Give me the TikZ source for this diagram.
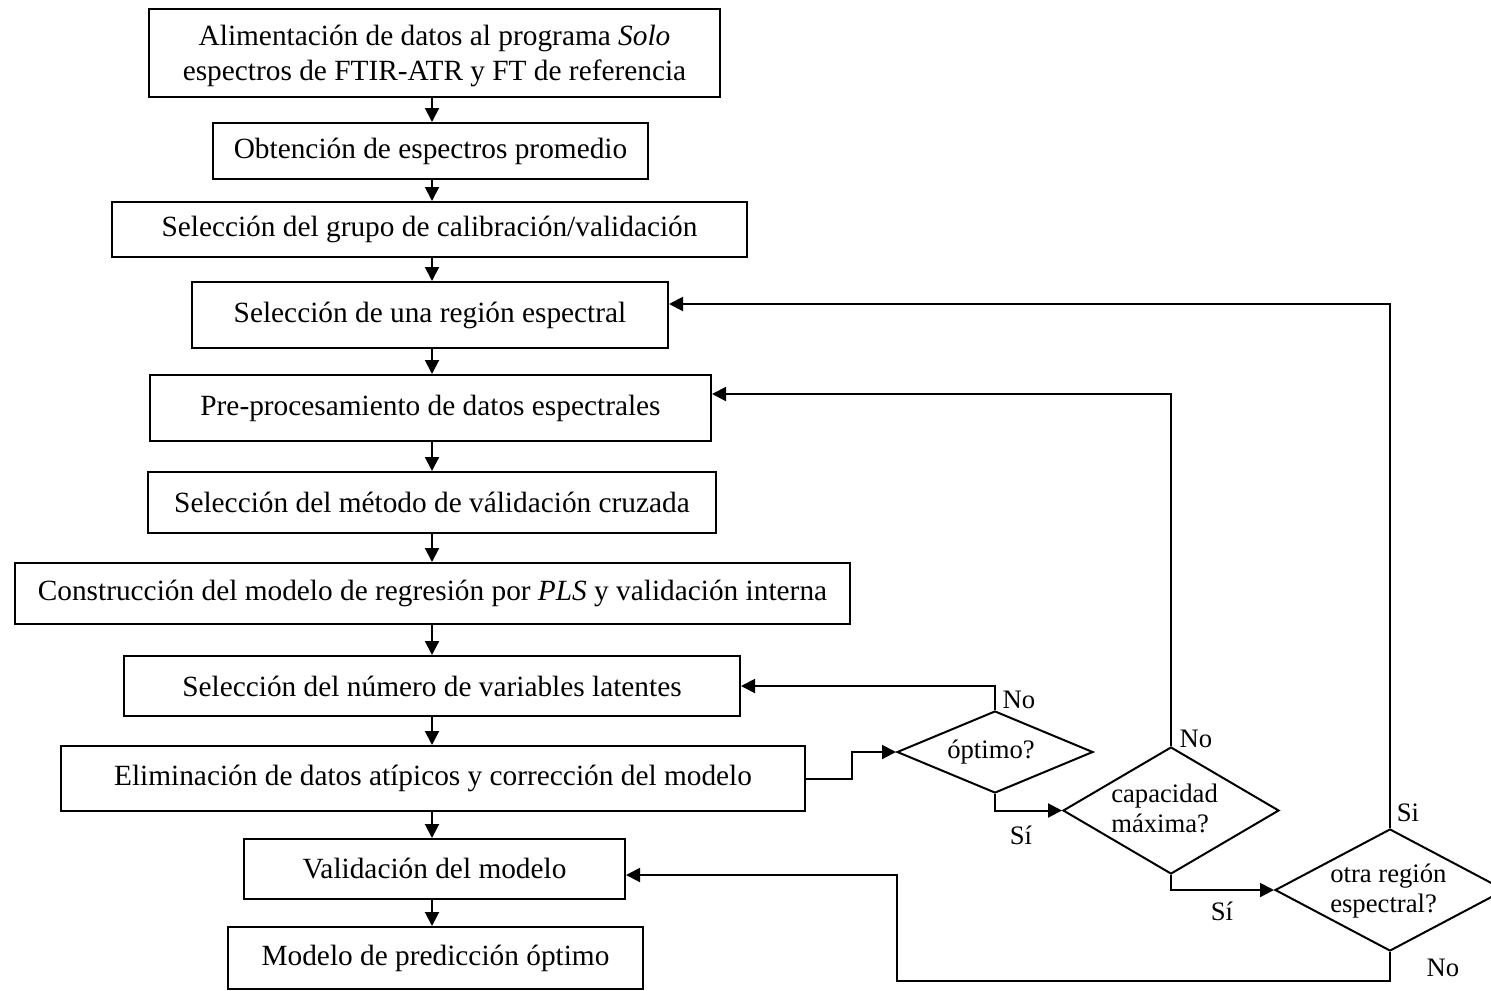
\documentclass[tikz,border=0pt]{standalone}
\usepackage{fontspec}
\setmainfont{Liberation Serif}
\usetikzlibrary{shapes.geometric,arrows.meta,calc}
\tikzset{
  box/.style={draw, line width=1.5pt, inner sep=0pt, align=center, font=\fontsize{22pt}{26pt}\selectfont},
  bx/.style 2 args={minimum width=#1*0.75pt, minimum height=#2*0.75pt},
  dec/.style={draw, diamond, line width=1.5pt, inner sep=0pt},
  dtxt/.style={inner sep=0pt, align=left, font=\fontsize{20pt}{22.5pt}\selectfont},
  lbl/.style={inner sep=0pt, font=\fontsize{20pt}{24pt}\selectfont},
  arr/.style={line width=1.5pt, -{Triangle[length=10.5pt,width=10.5pt]}},
}
\begin{document}
\begin{tikzpicture}[x=0.75pt,y=-0.75pt]
\useasboundingbox (0,0) rectangle (1491,990);
\node[box,bx={571}{88}] (b1) at (434.5,53) {\rule{0pt}{20pt}Alimentación de datos al programa \textit{Solo}\\espectros de FTIR-ATR y FT de referencia};
\node[box,bx={435}{56}] (b2) at (430.5,151) {Obtención de espectros promedio};
\node[box,bx={635}{55}] (b3) at (429.5,229.5) {Selección del grupo de calibración/validación};
\node[box,bx={476}{66}] (b4) at (430,315) {Selección de una región espectral};
\node[box,bx={561}{66}] (b5) at (430.5,408) {Pre-procesamiento de datos espectrales};
\node[box,bx={568}{61}] (b6) at (432,502.5) {Selección del método de válidación cruzada};
\node[box,bx={835}{61}] (b7) at (432.5,593.5) {Construcción del modelo de regresión por \textit{PLS} y validación interna};
\node[box,bx={616}{60}] (b8) at (432,686) {Selección del número de variables latentes};
\node[box,bx={744}{65}] (b9) at (433,778.5) {Eliminación de datos atípicos y corrección del modelo};
\node[box,bx={381}{60}] (b10) at (434.5,869) {Validación del modelo};
\node[box,bx={415}{62}] (b11) at (435.5,958) {Modelo de predicción óptimo};

\node[dec,bx={196}{82}] (d1) at (995,752) {};
\node[dec,bx={216}{127}] (d2) at (1171,810.5) {};
\node[dec,bx={230}{122}] (d3) at (1390,890) {};
\node[dtxt] (t1) at (991,752) {óptimo?};
\node[dtxt,anchor=west] (t2) at (1111,808) {capacidad\\máxima?};
\node[dtxt,anchor=west] (t3) at (1330,891) {otra región\\espectral?};

\coordinate (ax) at (432,0);
\foreach \a/\b in {b1/b2,b2/b3,b3/b4,b4/b5,b5/b6,b6/b7,b7/b8,b8/b9,b9/b10,b10/b11}
  \draw[arr] (\a.south -| ax) -- (\b.north -| ax);

\draw[arr] (d1.north) |- (b8.east);
\draw[arr] (d2.north) |- ($(b5.east)+(0,-14)$);
\draw[arr] (d3.north) |- ($(b4.east)+(0,-11)$);
\draw[arr] (b9.east) -- ++(46,0) |- (d1.west);
\draw[arr] (d1.south) |- (d2.west);
\draw[arr] (d2.south) |- (d3.west);
\draw[arr] (d3.south) -- ++(0,29) -| ($(b10.east)+(271,6)$) -- ($(b10.east)+(0,6)$);

\node[lbl] (l1) at (1019,700) {No};
\node[lbl] (l2) at (1021,835) {Sí};
\node[lbl] (l3) at (1196,739) {No};
\node[lbl] (l4) at (1222,911) {Sí};
\node[lbl] (l5) at (1408,813) {Si};
\node[lbl] (l6) at (1443,968) {No};
\end{tikzpicture}
\end{document}
